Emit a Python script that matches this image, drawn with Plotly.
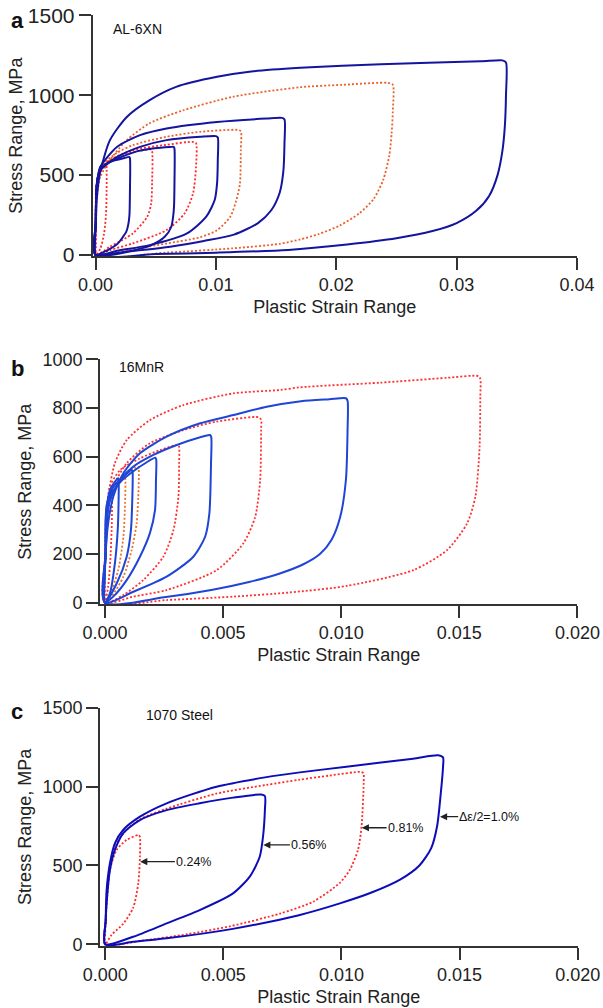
import plotly.graph_objects as go

# ---------------- Panel a : AL-6XN ----------------
a_b1_x = [0, 0.00002, 0.00006, 0.00015, 0.0004, 0.0009, 0.0016, 0.0024, 0.0028, 0.00286, 0.00286, 0.00282, 0.00272, 0.00256, 0.0022, 0.00187, 0.0012, 0.00076, 0.0003, 0]
a_b1_y = [0, 200, 380, 470, 530, 570, 592, 607, 614, 605, 400, 250, 190, 146, 105, 73, 38, 21, 6, 0]
a_b2_x = [0, 0.00002, 0.00006, 0.00015, 0.0004, 0.001, 0.00215, 0.0035, 0.0049, 0.0062, 0.0065, 0.00656, 0.00656, 0.00652, 0.00643, 0.0063, 0.00575, 0.00464, 0.003, 0.001, 0]
a_b2_y = [0, 200, 380, 470, 540, 575, 614, 650, 668, 676, 677, 665, 450, 300, 230, 177, 114, 62, 27, 6, 0]
a_b3_x = [0, 0.00002, 0.00006, 0.0002, 0.0004, 0.0018, 0.0037, 0.0059, 0.0087, 0.0100, 0.01016, 0.01016, 0.0101, 0.0099, 0.0092, 0.0076, 0.0045, 0.0018, 0]
a_b3_y = [0, 200, 380, 480, 531, 614, 677, 719, 740, 744, 735, 600, 450, 344, 240, 135, 62, 27, 0]
a_b4_x = [0, 0.00002, 0.00006, 0.0002, 0.0004, 0.0018, 0.0037, 0.0059, 0.0101, 0.0142, 0.0155, 0.0157, 0.0157, 0.0156, 0.0153, 0.0146, 0.0135, 0.0115, 0.009, 0.0062, 0.0031, 0]
a_b4_y = [0, 200, 380, 490, 552, 677, 750, 792, 833, 854, 858, 848, 700, 520, 390, 280, 200, 128, 88, 52, 25, 0]
a_b5_x = [0, 0.00003, 0.0001, 0.00037, 0.0012, 0.0026, 0.0045, 0.0067, 0.0101, 0.0131, 0.017, 0.0237, 0.032, 0.0338, 0.0341, 0.0341, 0.034, 0.0338, 0.0334, 0.0327, 0.0316, 0.03, 0.028, 0.025, 0.0209, 0.016, 0.01, 0.005, 0]
a_b5_y = [0, 200, 344, 512, 719, 864, 969, 1052, 1115, 1150, 1172, 1194, 1212, 1218, 1205, 1000, 800, 650, 500, 370, 275, 200, 150, 105, 66, 32, 15, 6, 0]

a_r0_x = [0, 0.00001, 0.00004, 0.00006, 0.00006, 0.00004, 0]
a_r0_y = [0, 250, 440, 430, 250, 60, 0]
a_r1_x = [0, 0.00002, 0.00006, 0.0002, 0.0005, 0.0009, 0.00092, 0.00092, 0.00087, 0.0007, 0.0004, 0]
a_r1_y = [0, 200, 380, 480, 540, 570, 555, 400, 250, 130, 40, 0]
a_r2_x = [0, 0.00002, 0.00006, 0.0002, 0.0008, 0.002, 0.0035, 0.0046, 0.0047, 0.0047, 0.00462, 0.0043, 0.0031, 0.0012, 0]
a_r2_y = [0, 200, 380, 480, 570, 622, 650, 660, 650, 450, 320, 240, 135, 52, 0]
a_r3_x = [0, 0.00002, 0.00006, 0.0002, 0.0009, 0.0031, 0.0059, 0.0081, 0.00835, 0.00835, 0.0081, 0.0074, 0.0059, 0.0031, 0.0012, 0]
a_r3_y = [0, 200, 380, 490, 580, 656, 690, 708, 700, 552, 385, 260, 156, 73, 31, 0]
a_r4_x = [0, 0.00002, 0.00006, 0.0002, 0.0004, 0.0018, 0.0031, 0.0059, 0.0087, 0.0118, 0.01207, 0.01207, 0.012, 0.0117, 0.0112, 0.0101, 0.0087, 0.0059, 0.0031, 0]
a_r4_y = [0, 200, 380, 490, 552, 640, 687, 740, 771, 783, 775, 656, 448, 344, 240, 156, 112, 72, 38, 0]
a_r5_x = [0, 0.00003, 0.0001, 0.0004, 0.0012, 0.0026, 0.0045, 0.0073, 0.0114, 0.017, 0.0205, 0.0243, 0.0247, 0.0247, 0.0246, 0.0244, 0.0239, 0.0231, 0.0219, 0.0203, 0.0185, 0.017, 0.0153, 0.0114, 0.006, 0]
a_r5_y = [0, 200, 350, 490, 594, 719, 825, 906, 990, 1050, 1065, 1077, 1065, 900, 760, 620, 470, 350, 260, 185, 130, 98, 70, 42, 16, 0]

# ---------------- Panel b : 16MnR ----------------
b_b1_x = [0, 0.00002, 0.00004, 0.00021, 0.00042, 0.00056, 0.00058, 0.00058, 0.00054, 0.00042, 0.00021, 0]
b_b1_y = [0, 200, 353, 463, 497, 511, 500, 435, 299, 162, 39, 0]
b_b2_x = [0, 0.00002, 0.00007, 0.00035, 0.00078, 0.00114, 0.00117, 0.00116, 0.0011, 0.00092, 0.0005, 0]
b_b2_y = [0, 200, 400, 476, 518, 545, 535, 435, 299, 189, 80, 0]
b_b3_x = [0, 0.00003, 0.0001, 0.00025, 0.00064, 0.0012, 0.00177, 0.00213, 0.00217, 0.00216, 0.00212, 0.0019, 0.00148, 0.00092, 0.00035, 0]
b_b3_y = [0, 200, 360, 440, 495, 540, 577, 596, 588, 504, 381, 285, 189, 93, 25, 0]
b_b4_x = [0, 0.00003, 0.0001, 0.00021, 0.00064, 0.0012, 0.00205, 0.00304, 0.00403, 0.00445, 0.0045, 0.00449, 0.00442, 0.00424, 0.00374, 0.00261, 0.0012, 0]
b_b4_y = [0, 200, 360, 420, 504, 559, 607, 648, 680, 689, 680, 573, 367, 271, 189, 107, 45, 0]
b_b5_x = [0, 0.00003, 0.00014, 0.00035, 0.00078, 0.00148, 0.00261, 0.00403, 0.00544, 0.00685, 0.0083, 0.0095, 0.0102, 0.01027, 0.01027, 0.0102, 0.00996, 0.0096, 0.0091, 0.0084, 0.0074, 0.0061, 0.0045, 0.0025, 0]
b_b5_y = [0, 200, 330, 435, 532, 614, 682, 737, 771, 805, 828, 836, 840, 830, 709, 504, 353, 260, 200, 158, 120, 85, 52, 22, 0]

b_r1_x = [0, 0.00002, 0.00008, 0.00028, 0.0003, 0.00029, 0.00024, 0.00014, 0]
b_r1_y = [0, 200, 380, 470, 455, 330, 200, 70, 0]
b_r2_x = [0, 0.00002, 0.00007, 0.0003, 0.00083, 0.00086, 0.00085, 0.00078, 0.00056, 0.0002, 0]
b_r2_y = [0, 200, 380, 470, 525, 515, 408, 271, 134, 30, 0]
b_r3_x = [0, 0.00002, 0.0001, 0.0004, 0.0009, 0.0014, 0.00143, 0.00141, 0.00134, 0.00113, 0.00078, 0.00028, 0]
b_r3_y = [0, 200, 400, 480, 530, 559, 550, 435, 326, 216, 107, 25, 0]
b_r4_x = [0, 0.00003, 0.0001, 0.00021, 0.00064, 0.00148, 0.00233, 0.0031, 0.00314, 0.00314, 0.00311, 0.0029, 0.00247, 0.00162, 0.00078, 0]
b_r4_y = [0, 200, 380, 476, 545, 593, 627, 648, 640, 573, 435, 299, 189, 93, 32, 0]
b_r5_x = [0, 0.00003, 0.00007, 0.00035, 0.00092, 0.0019, 0.00332, 0.00473, 0.0065, 0.00661, 0.00661, 0.00657, 0.00636, 0.00586, 0.00473, 0.00261, 0.0012, 0]
b_r5_y = [0, 200, 353, 476, 573, 655, 709, 744, 762, 752, 709, 504, 353, 244, 134, 52, 25, 0]
b_r6_x = [0, 0.00002, 0.00014, 0.00042, 0.00092, 0.0019, 0.00332, 0.00544, 0.00742, 0.00826, 0.01165, 0.01448, 0.0158, 0.01589, 0.01589, 0.01586, 0.01568, 0.01533, 0.01448, 0.01306, 0.01024, 0.0078, 0.00544, 0.00261, 0]
b_r6_y = [0, 200, 435, 573, 668, 750, 812, 860, 874, 885, 904, 924, 931, 920, 846, 641, 435, 326, 216, 134, 69, 42, 25, 11, 0]

# ---------------- Panel c : 1070 Steel ----------------
c_r1_x = [0, 0.00003, 0.00006, 0.0002, 0.00048, 0.0009, 0.00142, 0.00147, 0.00147, 0.0014, 0.00118, 0.00076, 0.00027, 0]
c_r1_y = [0, 150, 260, 470, 598, 661, 693, 680, 555, 387, 230, 130, 60, 0]
c_b2_x = [0, 0.00002, 0.00006, 0.0002, 0.00041, 0.00076, 0.00147, 0.0026, 0.004, 0.00541, 0.0066, 0.00676, 0.00676, 0.00668, 0.00654, 0.00612, 0.00541, 0.004, 0.0026, 0.00118, 0]
c_b2_y = [0, 150, 260, 471, 598, 704, 788, 851, 894, 930, 950, 940, 851, 682, 555, 429, 323, 217, 133, 48, 0]
c_r3_x = [0, 0.00002, 0.00006, 0.0002, 0.0004, 0.0008, 0.0015, 0.0026, 0.0047, 0.0068, 0.0082, 0.0095, 0.0108, 0.01093, 0.01094, 0.01085, 0.0107, 0.01035, 0.00993, 0.0088, 0.0074, 0.0053, 0.0035, 0.0015, 0]
c_r3_y = [0, 150, 280, 490, 610, 710, 795, 860, 955, 1010, 1043, 1070, 1093, 1085, 1021, 746, 598, 471, 390, 270, 195, 115, 65, 22, 0]
c_b4_x = [0, 0.00002, 0.00006, 0.0002, 0.00041, 0.00076, 0.00147, 0.0026, 0.00471, 0.00683, 0.00824, 0.01021, 0.01303, 0.0141, 0.0143, 0.0143, 0.0142, 0.01405, 0.0138, 0.0133, 0.0125, 0.0113, 0.0099, 0.0082, 0.0054, 0.0026, 0.00118, 0]
c_b4_y = [0, 150, 344, 513, 640, 725, 809, 894, 999, 1060, 1090, 1126, 1177, 1198, 1185, 1126, 950, 750, 610, 500, 412, 330, 258, 185, 98, 38, 16, 0]

c_labels = ["0.24%", "0.56%", "0.81%", "\u0394\u03b5/2=1.0%"]
c_label_head_x = [0.00148, 0.00669, 0.01086, 0.01417]
c_label_head_y = [524, 630, 739, 809]
c_label_tail_x = [0.00295, 0.00782, 0.01191, 0.01494]

# ---------------- styles ----------------
A_BLUE, A_ORANGE, A_RED, A_PINK = "#14149e", "#e8622c", "#ff2a2a", "#ff2a6a"
B_BLUE, B_RED, B_ORANGE = "#1f45d6", "#ff3030", "#e8742c"
C_BLUE, C_RED = "#0c0cb8", "#ff2a2a"
FONT = "Liberation Sans, Arial, Helvetica, sans-serif"
DOT = "2px,2px"

fig = go.Figure()


def add(x, y, color, dotted, ax):
    fig.add_trace(go.Scatter(
        x=x, y=y, mode="lines", showlegend=False, hoverinfo="skip",
        xaxis="x" + ax, yaxis="y" + ax,
        line=dict(color=color, width=1.8 if dotted else 2,
                  dash=DOT if dotted else "solid", shape="spline", smoothing=0.7)))


# panel a
for x, y in [(a_r0_x, a_r0_y), (a_r1_x, a_r1_y), (a_r2_x, a_r2_y), (a_r3_x, a_r3_y)]:
    add(x, y, A_RED if x is not a_r0_x else A_PINK, True, "")
for x, y in [(a_r4_x, a_r4_y), (a_r5_x, a_r5_y)]:
    add(x, y, A_ORANGE, True, "")
for x, y in [(a_b1_x, a_b1_y), (a_b2_x, a_b2_y), (a_b3_x, a_b3_y), (a_b4_x, a_b4_y), (a_b5_x, a_b5_y)]:
    add(x, y, A_BLUE, False, "")

# panel b
for x, y in [(b_r1_x, b_r1_y), (b_r4_x, b_r4_y), (b_r5_x, b_r5_y), (b_r6_x, b_r6_y)]:
    add(x, y, B_RED, True, "2")
for x, y in [(b_r2_x, b_r2_y), (b_r3_x, b_r3_y)]:
    add(x, y, B_ORANGE, True, "2")
for x, y in [(b_b1_x, b_b1_y), (b_b2_x, b_b2_y), (b_b3_x, b_b3_y), (b_b4_x, b_b4_y), (b_b5_x, b_b5_y)]:
    add(x, y, B_BLUE, False, "2")

# panel c
for x, y in [(c_r1_x, c_r1_y), (c_r3_x, c_r3_y)]:
    add(x, y, C_RED, True, "3")
for x, y in [(c_b2_x, c_b2_y), (c_b4_x, c_b4_y)]:
    add(x, y, C_BLUE, False, "3")

W, H = 603, 1008


def px(v):
    return v / W


def py(v):
    return 1 - v / H


axis_common = dict(showline=True, linecolor="#333", linewidth=1.6, ticks="outside",
                   ticklen=12, tickwidth=1.6, tickcolor="#333", showgrid=False,
                   zeroline=False, automargin=False,
                   tickfont=dict(size=18, family=FONT, color="#222"))
xt = dict(text="Plastic Strain Range", font=dict(size=18, family=FONT, color="#222"), standoff=6)
yt = dict(text="Stress Range, MPa", font=dict(size=18, family=FONT, color="#222"), standoff=6)
yt_a = dict(yt, standoff=0)

annotations = []
for letter, material, ly, mx, my in [("a", "AL-6XN", 20, 137, 29),
                                     ("b", "16MnR", 368, 141, 367),
                                     ("c", "1070 Steel", 711, 179, 715)]:
    annotations.append(dict(text="<b>%s</b>" % letter, x=px(17), y=py(ly), xref="paper", yref="paper",
                            xanchor="center", yanchor="middle", showarrow=False,
                            font=dict(size=22, family=FONT, color="#111")))
    annotations.append(dict(text=material, x=px(mx), y=py(my), xref="paper", yref="paper",
                            xanchor="center", yanchor="middle", showarrow=False,
                            font=dict(size=14, family=FONT, color="#111")))

for t, hx, hy, tx in zip(c_labels, c_label_head_x, c_label_head_y, c_label_tail_x):
    annotations.append(dict(text=t, x=hx, y=hy, xref="x3", yref="y3", axref="x3", ayref="y3",
                            ax=tx, ay=hy, xanchor="left", showarrow=True, arrowhead=2,
                            arrowsize=1.1, arrowwidth=1.3, arrowcolor="#222", borderpad=0,
                            font=dict(size=12.5, family=FONT, color="#111")))

fig.update_layout(
    template="none",
    width=W, height=H, margin=dict(l=0, r=0, t=0, b=0, autoexpand=False),
    paper_bgcolor="white", plot_bgcolor="white", showlegend=False,
    xaxis=dict(axis_common, domain=[px(92.5), px(577)], range=[-0.00025, 0.04],
               tickvals=[0, 0.01, 0.02, 0.03, 0.04], tickformat=".2f", title=xt, anchor="y"),
    yaxis=dict(axis_common, domain=[py(256), py(15.3)], range=[-6, 1500],
               tickvals=[0, 500, 1000, 1500], title=yt_a, anchor="x",
               tickfont=dict(size=21, family=FONT, color="#222")),
    xaxis2=dict(axis_common, domain=[px(100), px(577.4)], range=[-0.00021, 0.02],
                tickvals=[0, 0.005, 0.01, 0.015, 0.02], tickformat=".3f", title=xt, anchor="y2"),
    yaxis2=dict(axis_common, domain=[py(604), py(359.3)], range=[-5.3, 1000],
                tickvals=[0, 200, 400, 600, 800, 1000], title=yt, anchor="x2"),
    xaxis3=dict(axis_common, domain=[px(100), px(577.7)], range=[-0.00022, 0.02],
                tickvals=[0, 0.005, 0.01, 0.015, 0.02], tickformat=".3f", title=xt, anchor="y3"),
    yaxis3=dict(axis_common, domain=[py(946), py(707.7)], range=[-10.5, 1500],
                tickvals=[0, 500, 1000, 1500], title=yt, anchor="x3"),
    annotations=annotations,
)

fig.write_html("out.html")
